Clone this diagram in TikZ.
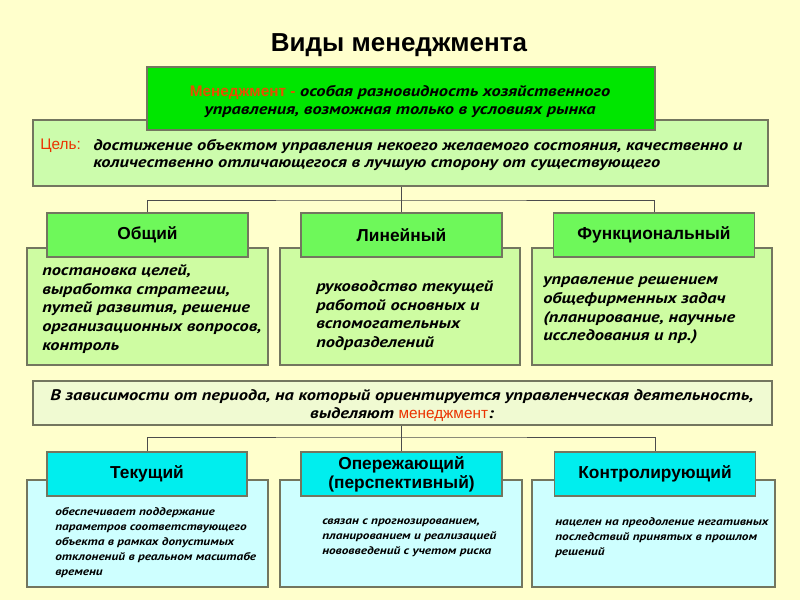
\documentclass[tikz,border=0pt]{standalone}
\usepackage{fontspec}
\setmainfont{Liberation Sans}
\newfontfamily\itf[FakeStretch=1.2]{PT Sans Bold Italic}
\newfontfamily\hdf{Liberation Sans}
\definecolor{bg}{RGB}{255,255,204}
\definecolor{topgreen}{RGB}{0,230,0}
\definecolor{hgreen}{RGB}{110,248,90}
\definecolor{lgreen}{RGB}{206,252,162}
\definecolor{goalgreen}{RGB}{204,252,172}
\definecolor{hcyan}{RGB}{0,238,238}
\definecolor{lcyan}{RGB}{206,255,255}
\definecolor{bord}{RGB}{115,118,95}
\definecolor{lbox}{RGB}{240,250,210}
\definecolor{redt}{RGB}{235,50,0}
\definecolor{orangt}{RGB}{230,80,0}
\tikzset{
  box/.style={draw=bord, line width=0.9pt, inner sep=0pt},
  conn/.style={draw=black!70, line width=0.7pt},
  txt/.style={inner sep=0pt, anchor=west, align=left},
  bigit/.style={font=\itf\fontsize{11.5}{14}\selectfont},
  smallit/.style={font=\itf\fontsize{8.3}{11.25}\selectfont},
  hdr/.style={font=\bfseries\fontsize{13}{14.25}\selectfont},
}
\begin{document}
\begin{tikzpicture}[x=0.75pt,y=-0.75pt]
\fill[bg] (0,0) rectangle (800,600);
\useasboundingbox (0,0) rectangle (800,600);
% title
\node (title) at (399,45) {\fontsize{19.5}{22}\selectfont\bfseries Виды менеджмента};
% goal box and top box
\node[box, fill=goalgreen, minimum width=551.25pt, minimum height=49.5pt] (goal) at (400.5,153) {};
\node[box, fill=topgreen, minimum width=381pt, minimum height=47.25pt] (top) at (401,98.5) {};
\node[inner sep=0pt, align=center, font=\itf\fontsize{11.5}{13.5}\selectfont] (toptxt) at (400,101)
  {{\hdf\bfseries\color{orangt}Менеджмент -} особая разновидность хозяйственного\\
   управления, возможная только в условиях рынка};
\node[txt, font=\hdf\fontsize{11.5}{12.75}\selectfont, text=redt] (goallab) at (40,146) {Цель:};
\node[txt, font=\itf\fontsize{11.5}{12.75}\selectfont] (goaltxt) at (93,155)
  {достижение объектом управления некоего желаемого состояния, качественно и\\
   количественно отличающегося в лучшую сторону от существующего};
% green bodies
\node[box, fill=lgreen, minimum width=180.75pt, minimum height=87.75pt] (b1) at (147.5,306.5) {};
\node[box, fill=lgreen, minimum width=180pt, minimum height=87.75pt] (b2) at (400,306.5) {};
\node[box, fill=lgreen, minimum width=180pt, minimum height=87.75pt] (b3) at (652,306.5) {};
% green headers
\node[box, fill=hgreen, hdr, minimum width=150.75pt, minimum height=33pt] (h1) at (147.5,235) {Общий};
\node[box, fill=hgreen, hdr, minimum width=150.75pt, minimum height=33pt] (h2) at (401.5,235) {Линейный};
\node[box, fill=hgreen, hdr, minimum width=150.75pt, minimum height=33pt] (h3) at (654,235) {Функциональный};
\coordinate (bus1) at (401.5,200);
\draw[conn] (h2.north) -- (h2.north |- goal.south);
\draw[conn] (h1.north) |- (bus1) -| (h3.north);
% green body texts
\node[txt, bigit] (t1) at (42,309) {постановка целей,\\ выработка стратегии,\\ путей развития, решение\\ организационных вопросов,\\ контроль};
\node[txt, bigit] (t2) at (316,315.5) {руководство текущей\\ работой основных и\\ вспомогательных\\ подразделений};
\node[txt, bigit] (t3) at (543,310.5) {управление решением\\ общефирменных задач\\ (планирование, научные\\ исследования и пр.)};
% period box
\node[box, fill=lbox, minimum width=554.25pt, minimum height=33pt] (per) at (402.5,403) {};
\node[inner sep=0pt, align=center, font=\itf\fontsize{11.5}{13.5}\selectfont] (pertxt) at (402,405.5)
  {В зависимости от периода, на который ориентируется управленческая деятельность,\\
   выделяют {\hdf\color{redt}менеджмент}:};
% cyan bodies
\node[box, fill=lcyan, minimum width=180.75pt, minimum height=80.25pt] (c1) at (147.5,533.5) {};
\node[box, fill=lcyan, minimum width=181.5pt, minimum height=80.25pt] (c2) at (401,533.5) {};
\node[box, fill=lcyan, minimum width=182.25pt, minimum height=80.25pt] (c3) at (653.5,533.5) {};
% cyan headers
\node[box, fill=hcyan, hdr, minimum width=150pt, minimum height=33pt] (k1) at (147,474) {Текущий};
\node[box, fill=hcyan, hdr, minimum width=150.75pt, minimum height=33pt, align=center] (k2) at (401.5,474) {Опережающий\\(перспективный)};
\node[box, fill=hcyan, hdr, minimum width=150.75pt, minimum height=33pt] (k3) at (655,474) {Контролирующий};
\coordinate (bus2) at (401.5,437);
\draw[conn] (k2.north) -- (k2.north |- per.south);
\draw[conn] (k1.north) |- (bus2) -| (k3.north);
% cyan body texts
\node[txt, smallit] (u1) at (55,543) {обеспечивает поддержание\\ параметров соответствующего\\ объекта в рамках допустимых\\ отклонений в реальном масштабе\\ времени};
\node[txt, smallit] (u2) at (322,537.5) {связан с прогнозированием,\\ планированием и реализацией\\ нововведений с учетом риска};
\node[txt, smallit] (u3) at (555,537.5) {нацелен на преодоление негативных\\ последствий принятых в прошлом\\ решений};
\end{tikzpicture}
\end{document}
